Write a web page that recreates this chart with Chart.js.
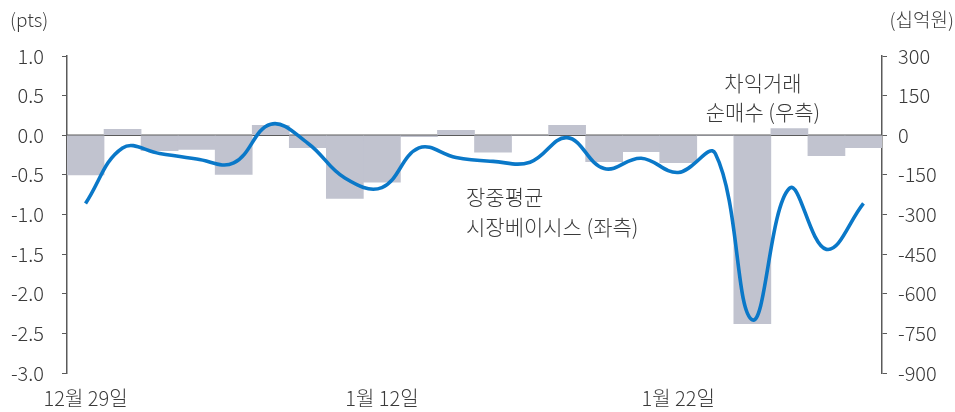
<!DOCTYPE html>
<html>
<head>
<meta charset="utf-8">
<script src="https://cdn.jsdelivr.net/npm/chart.js@4.4.1/dist/chart.umd.min.js"></script>
<style>
  body { margin: 0; background: #fff; }
  #wrap { width: 955px; height: 412px; position: relative; }
</style>
</head>
<body>
<div id="wrap"><canvas id="grafico"></canvas></div>
<script>
    // categorias (dias de negociação) - só 3 rótulos aparecem
    const dias = ['12월 29일', '', '', '', '', '', '', '', '1월 12일', '', '', '', '', '', '', '', '1월 22일', '', '', '', '', ''];
    // 장중평균 시장베이시스 (pts, eixo esquerdo)
    const basis = [-0.86, -0.16, -0.23, -0.30, -0.35, 0.14, -0.10, -0.54, -0.66, -0.16, -0.28, -0.33, -0.34, -0.03, -0.42, -0.29, -0.47, -0.23, -2.33, -0.67, -1.44, -0.86];
    // 차익거래 순매수 (십억원, eixo direito)
    const arbitragem = [-150, 22, -58, -54, -148, 38, -47, -239, -178, -5, 19, -64, 0, 38, -100, -62, -104, 0, -713, 25, -77, -47];

    const fonte = "'Noto Sans CJK KR', 'Noto Sans', sans-serif";
    const corTexto = '#3a3a3a';
    const corEixo = '#5a5a5a';

    // linha do zero, marcas do eixo x e textos
    const extras = {
        id: 'extras',
        beforeDatasetsDraw(chart) {
            const ctx = chart.ctx;
            const area = chart.chartArea;
            const y0 = chart.scales.y.getPixelForValue(0);
            ctx.save();
            ctx.strokeStyle = corEixo;
            ctx.lineWidth = 1.5;
            ctx.beginPath();
            ctx.moveTo(area.left, y0);
            ctx.lineTo(area.right, y0);
            ctx.stroke();
            const x = chart.scales.x;
            const larg = (x.getPixelForValue(1) - x.getPixelForValue(0));
            dias.forEach((d, i) => {
                if (d !== '' && i > 0) {
                    const px = Math.round(x.getPixelForValue(i) - larg / 2) + 0.5;
                    ctx.lineWidth = 1;
                    ctx.beginPath();
                    ctx.moveTo(px, y0);
                    ctx.lineTo(px, y0 + 6);
                    ctx.stroke();
                }
            });
            ctx.restore();
        },
        afterDraw(chart) {
            const ctx = chart.ctx;
            ctx.save();
            ctx.fillStyle = corTexto;
            ctx.textBaseline = 'middle';
            ctx.textAlign = 'left';
            ctx.font = '300 19px ' + fonte;
            ctx.fillText('(pts)', 10, 20);
            ctx.font = '300 21px ' + fonte;
            ctx.fillText('장중평균', 466, 197);
            ctx.fillText('시장베이시스 (좌측)', 466, 227);
            ctx.textAlign = 'right';
            ctx.font = '300 19px ' + fonte;
            ctx.fillText('(십억원)', 954, 20);
            ctx.textAlign = 'center';
            ctx.font = '300 21px ' + fonte;
            ctx.fillText('차익거래', 763, 83);
            ctx.fillText('순매수 (우측)', 763, 112);
            ctx.restore();
        }
    };

    const config = {
        data: {
            labels: dias,
            datasets: [{
                type: 'line',
                label: '장중평균 시장베이시스 (좌측)',
                data: basis,
                yAxisID: 'y',
                borderColor: '#0a78c8',
                borderWidth: 3.6,
                pointRadius: 0,
                tension: 0.4,
                order: 1
            }, {
                type: 'bar',
                label: '차익거래 순매수 (우측)',
                data: arbitragem,
                yAxisID: 'y1',
                backgroundColor: '#c1c3cf',
                categoryPercentage: 1,
                barPercentage: 1,
                order: 2
            }]
        },
        options: {
            responsive: true,
            maintainAspectRatio: false,
            animation: false,
            layout: { padding: { top: 56, bottom: 0, left: 0, right: 0 } },
            plugins: { legend: { display: false }, tooltip: { enabled: false } },
            scales: {
                x: {
                    offset: true,
                    grid: { display: false, drawTicks: false },
                    border: { display: false },
                    ticks: {
                        autoSkip: false,
                        maxRotation: 0,
                        padding: 13,
                        color: corTexto,
                        font: { family: fonte, size: 20, weight: 300 }
                    },
                    afterFit(scale) { scale.height = 39; }
                },
                y: {
                    position: 'left',
                    min: -3,
                    max: 1,
                    ticks: {
                        stepSize: 0.5,
                        padding: 18,
                        color: corTexto,
                        font: { family: fonte, size: 20, weight: 300 },
                        callback: v => v.toFixed(1)
                    },
                    grid: { drawOnChartArea: false, tickLength: 5, color: corEixo },
                    border: { color: corEixo, width: 1.5 },
                    afterFit(scale) { scale.width = 67; }
                },
                y1: {
                    position: 'right',
                    min: -900,
                    max: 300,
                    ticks: {
                        stepSize: 150,
                        padding: 11,
                        color: corTexto,
                        font: { family: fonte, size: 20, weight: 300 }
                    },
                    grid: { drawOnChartArea: false, tickLength: 5, color: corEixo },
                    border: { color: corEixo, width: 1.5 },
                    afterFit(scale) { scale.width = 73; }
                }
            }
        },
        plugins: [extras]
    };

    var ctx = document.getElementById('grafico');
    var grafico = new Chart(ctx, config);
</script>
</body>
</html>
